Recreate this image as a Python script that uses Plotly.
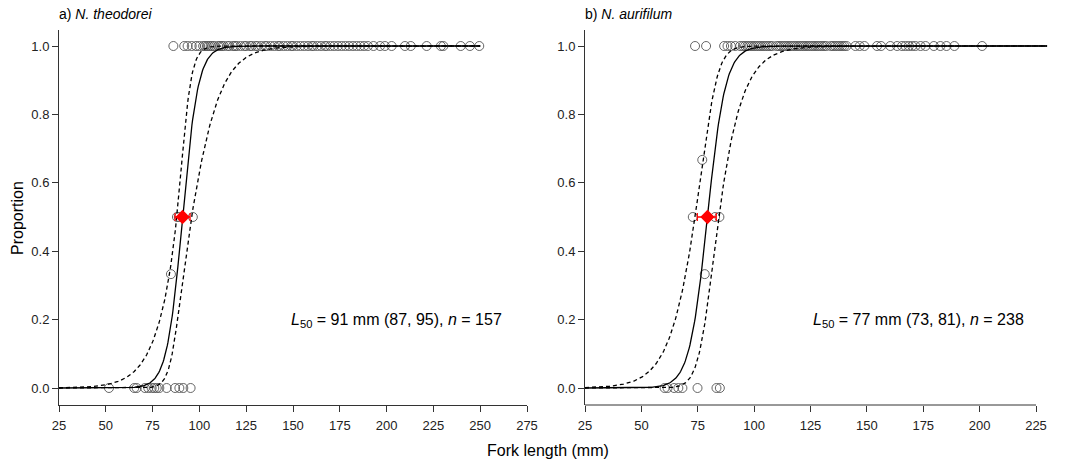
import numpy as np
import plotly.graph_objects as go

# ---------------- data ----------------
# Panel a) N. theodorei
a_len_p0 = [51.7, 65.2, 66.5, 70.9, 72.7, 74.5, 75.9, 77.2, 78.6, 82.5, 87.0, 89.3, 91.4, 95.3]
a_len_p1 = [86.1, 91.9, 93.7, 95.9, 98.2, 100.0, 102, 103, 104, 105, 106, 107, 108, 110, 111, 112,
            113, 115, 116, 118, 119, 120, 122, 124, 125, 127, 128, 130, 131, 133, 135, 136, 138,
            140, 142, 143, 145, 147, 149, 150, 152, 154, 156, 158, 160, 161, 163, 165, 167, 168,
            170, 172, 174, 176, 178, 180, 182, 184, 186, 188, 190, 193, 196.5, 199.1, 202.7,
            209.8, 212.9, 221.4, 229.0, 230.3, 239.6, 244.5, 249.5]
a_len_mid = [84.8, 88.0, 89.0, 96.5]
a_prop_mid = [0.333, 0.5, 0.5, 0.5]
a_l50, a_ci_lo, a_ci_hi = 91.0, 87.0, 95.0
a_slope = 0.24
a_se = (0.14, 0.0045, 89.0)     # logit-scale s.e. model: v0, v2, centre
a_curve_end = 250

# Panel b) N. aurifilum
b_len_p0 = [60.3, 61.6, 64.5, 66.4, 68.2, 74.9, 83.3, 84.8]
b_len_p1 = [73.8, 78.7, 86.7, 88.2, 89.7, 91.6, 93.8, 95, 96, 97, 98, 99, 100, 101, 102, 103,
            104, 105, 106, 107, 108, 110, 111, 112, 113, 114, 115, 116, 117, 118, 119, 120, 121,
            122, 123, 124, 125, 126, 127, 128, 129, 130, 131, 132, 134, 135, 136, 137, 138, 139,
            140, 141, 144.9, 146.8, 148.9, 154.5, 156.3, 160.4, 163.4, 165.6, 167.1, 168.6,
            170.1, 171.5, 173.8, 176.0, 179.7, 182.6, 185.3, 188.8, 201.1]
b_len_mid = [78.1, 72.8, 82.7, 84.6, 77.0]
b_prop_mid = [0.333, 0.5, 0.5, 0.5, 0.667]
b_l50, b_ci_lo, b_ci_hi = 79.3, 74.8, 83.2
b_slope = 0.25
b_se = (0.34, 0.004, 80.0)
b_curve_end = 230

a_ticks = list(range(25, 276, 25))
b_ticks = list(range(25, 226, 25))
y_ticks = [0.0, 0.2, 0.4, 0.6, 0.8, 1.0]
y_ticktext = ["0.0", "0.2", "0.4", "0.6", "0.8", "1.0"]

a_label = "<i>L</i><sub>50</sub> = 91 mm (87, 95), <i>n</i> = 157"
b_label = "<i>L</i><sub>50</sub> = 77 mm (73, 81), <i>n</i> = 238"
a_title = "a) <i>N. theodorei</i>"
b_title = "b) <i>N. aurifilum</i>"

# ---------------- helpers ----------------
def logistic(z):
    return 1.0 / (1.0 + np.exp(-z))

def fitted(l50, slope, se, end):
    L = np.linspace(25, end, 600)
    eta = slope * (L - l50)
    s = np.sqrt(se[0] + se[1] * (L - se[2]) ** 2)
    return L, logistic(eta), logistic(eta + 1.96 * s), logistic(eta - 1.96 * s)

# page body has an 8px margin: build the figure in window pixels minus that offset
OFF = 8
W, H = 1065 - OFF, 459 - OFF

def px(x):
    return (x - OFF) / W

def py(y):
    return 1 - (y - OFF) / H

FONT = "Liberation Sans, Arial, sans-serif"
fig = go.Figure()

def add_panel(xa, ya, p0, p1, lm, pm, l50, lo, hi, slope, se, end):
    circ = dict(symbol="circle-open", size=9, color="#555555", line=dict(width=0.9, color="#555555"))
    xs = list(p0) + list(p1) + list(lm)
    ys = [0.0] * len(p0) + [1.0] * len(p1) + list(pm)
    fig.add_trace(go.Scatter(x=xs, y=ys, mode="markers", marker=circ, xaxis=xa, yaxis=ya,
                             showlegend=False, cliponaxis=False))
    L, p, up, dn = fitted(l50, slope, se, end)
    dash = dict(color="black", width=1.3, dash="4px,3px")
    fig.add_trace(go.Scatter(x=L, y=up, mode="lines", line=dash, xaxis=xa, yaxis=ya, showlegend=False))
    fig.add_trace(go.Scatter(x=L, y=dn, mode="lines", line=dash, xaxis=xa, yaxis=ya, showlegend=False))
    fig.add_trace(go.Scatter(x=L, y=p, mode="lines", line=dict(color="black", width=1.3),
                             xaxis=xa, yaxis=ya, showlegend=False))
    fig.add_trace(go.Scatter(x=[l50], y=[0.5], mode="markers",
                             marker=dict(symbol="diamond", size=11, color="red"),
                             error_x=dict(type="data", symmetric=False, array=[hi - l50],
                                          arrayminus=[l50 - lo], color="red", thickness=1.3, width=4),
                             xaxis=xa, yaxis=ya, showlegend=False, cliponaxis=False))

add_panel("x", "y", a_len_p0, a_len_p1, a_len_mid, a_prop_mid, a_l50, a_ci_lo, a_ci_hi,
          a_slope, a_se, a_curve_end)
add_panel("x2", "y2", b_len_p0, b_len_p1, b_len_mid, b_prop_mid, b_l50, b_ci_lo, b_ci_hi,
          b_slope, b_se, b_curve_end)

ydom = [py(405), py(30)]
yr = [-0.0497, 1.0468]
tickfont = dict(family=FONT, size=13, color="#222222")
common_x = dict(ticks="outside", ticklen=6, tickcolor="#333333", showgrid=False, zeroline=False,
                tickfont=tickfont, automargin=False, tickmode="array", ticklabelstandoff=2)
common_y = dict(ticks="outside", ticklen=6, tickcolor="#333333", showgrid=False, zeroline=False,
                tickfont=tickfont, automargin=False, tickmode="array", range=yr, domain=ydom,
                tickvals=y_ticks, ticktext=y_ticktext, showline=True, linecolor="#333333", linewidth=1)

b_px_per_mm = (1036 - 585) / 200.0
b_end_px = 585 + (b_curve_end - 25) * b_px_per_mm

fig.update_layout(
    width=W, height=H, margin=dict(l=0, r=0, t=0, b=0),
    paper_bgcolor="white", plot_bgcolor="white",
    xaxis=dict(domain=[px(59), px(527)], range=[25, 275], tickvals=a_ticks, anchor="y",
               showline=True, linecolor="#333333", linewidth=1, **common_x),
    yaxis=dict(anchor="x", **common_y),
    xaxis2=dict(domain=[px(585), px(b_end_px)], range=[25, b_curve_end], tickvals=b_ticks,
                anchor="y2", showline=False, **common_x),
    yaxis2=dict(anchor="x2", **common_y),
    shapes=[dict(type="line", xref="x2", yref="y2 domain", x0=25, x1=225, y0=0, y1=0,
                 line=dict(color="#333333", width=1))],
)

ann = [
    dict(text=a_title, x=px(57), y=py(14), xanchor="left", yanchor="middle", font_size=14),
    dict(text=b_title, x=px(583), y=py(14), xanchor="left", yanchor="middle", font_size=14),
    dict(text=a_label, x=px(396), y=py(320), xanchor="center", yanchor="middle", font_size=16),
    dict(text=b_label, x=px(918), y=py(320), xanchor="center", yanchor="middle", font_size=16),
    dict(text="Fork length (mm)", x=px(548), y=py(450), xanchor="center", yanchor="middle",
         font_size=16),
    dict(text="Proportion", x=px(18), y=py(218), xanchor="center", yanchor="middle",
         font_size=16, textangle=-90),
]
for a in ann:
    fs = a.pop("font_size")
    fig.add_annotation(xref="paper", yref="paper", showarrow=False,
                       font=dict(family=FONT, size=fs, color="black"), **a)

fig.write_html("out.html")
